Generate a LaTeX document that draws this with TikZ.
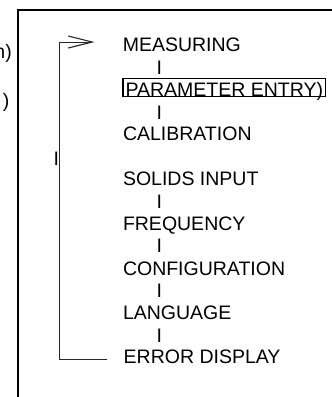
\documentclass[tikz,border=0pt]{standalone}
\usepackage{fontspec}
\setmainfont{Liberation Sans}
\usetikzlibrary{arrows.meta}
\begin{document}
\begin{tikzpicture}[x=1pt,y=-1pt,
  lbl/.style={font=\fontsize{19.5}{23}\selectfont, inner sep=0pt, anchor=base west},
  bar/.style={font=\fontsize{19.5}{23}\selectfont, inner sep=0pt, anchor=base},
  frame/.style={line width=1.4pt, black},
  loopline/.style={line width=0.9pt, black!85},
  hilite/.style={draw, line width=1.3pt, inner xsep=2.6pt, inner ysep=0pt, text height=17.6pt, text depth=0pt}
]
\useasboundingbox (0,0) rectangle (332,397);
\clip (0,0) rectangle (332,397);
% outer frame (continues beyond the page)
\coordinate (ftr) at (345,10);
\coordinate (ftl) at (18,10);
\coordinate (fbl) at (18,410);
\draw[frame] (ftr) -- (ftl) -- (fbl);
% clipped texts at the left
\node[font=\fontsize{19.5}{23}\selectfont, inner sep=0pt, anchor=base east] (t1) at (12,58.5) {n)};
\node[font=\fontsize{19.5}{23}\selectfont, inner sep=0pt, anchor=base east] (t2) at (9.6,107.5) {)};
% menu entries
\node[lbl] (m0) at (122.6,51.7) {MEASURING};
\node[lbl, hilite, anchor=base west] (m1) at (122.3,96.3) {PARAMETER ENTRY)};
\node[lbl] (m2) at (122.8,140.9) {CALIBRATION};
\node[lbl] (m3) at (122.8,185.9) {SOLIDS INPUT};
\node[lbl] (m4) at (122.8,230.5) {FREQUENCY};
\node[lbl] (m5) at (122.8,275.1) {CONFIGURATION};
\node[lbl] (m6) at (122.8,319.7) {LANGUAGE};
\node[lbl] (m7) at (123.5,363.5) {ERROR DISPLAY};
% separators
\node[bar] (b01) at (159.3,74.2) {I};
\node[bar] (b12) at (159.3,119.0) {I};
\node[bar] (b34) at (159.3,208.3) {I};
\node[bar] (b45) at (159.3,252.9) {I};
\node[bar] (b56) at (159.3,297.5) {I};
\node[bar] (b67) at (159.3,342.1) {I};
\node[bar] (bx) at (56.3,165) {I};
% loop back arrow
\coordinate (lb) at (107,359);
\coordinate (lc) at (59,359);
\coordinate (lt) at (94.5,42);
\draw[loopline, -{Straight Barb[length=24pt,width=12pt,line width=1.1pt]}] (lb) -- (lc) |- (lt);
\end{tikzpicture}
\end{document}
